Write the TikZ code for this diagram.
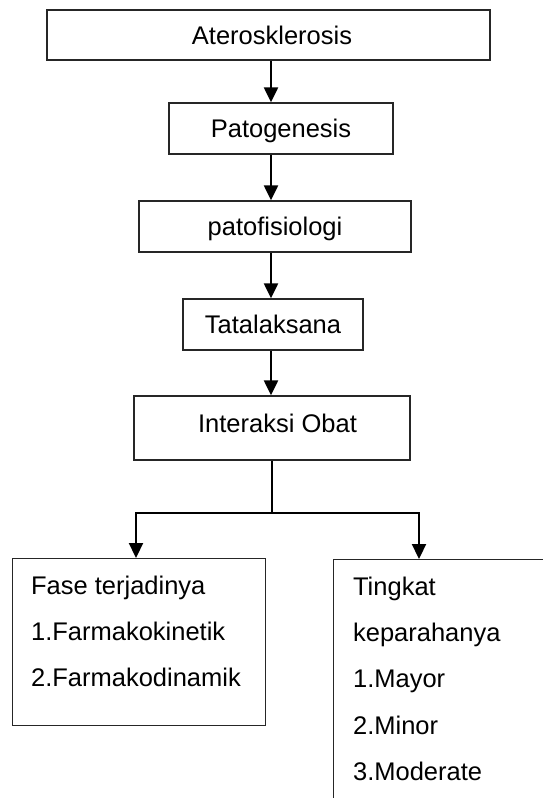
\documentclass[tikz,border=0pt]{standalone}
\usepackage{fontspec}
\setmainfont{Liberation Sans}
\usetikzlibrary{arrows.meta}
\tikzset{kotak/.style={draw=black!85, line width=1.3pt, text height=18pt, text depth=0pt}}
\begin{document}
\begin{tikzpicture}[x=1pt, y=-1pt, >={Triangle[width=14pt,length=15pt]}, line width=2.2pt, font=\fontsize{25.5pt}{46.3pt}\selectfont]
\path[use as bounding box, clip](0,0) rectangle (543,798);
\node[kotak, minimum width=443pt, minimum height=50pt](A) at (268.5,35){\hspace*{7pt}Aterosklerosis};
\node[kotak, minimum width=224pt, minimum height=51pt](B) at (281,128.5){Patogenesis};
\node[kotak, minimum width=272pt, minimum height=51pt](C) at (275,226.5){patofisiologi};
\node[kotak, minimum width=180pt, minimum height=51pt](D) at (273,324.5){Tatalaksana};
\node[kotak, minimum width=276pt, minimum height=64pt, text depth=10pt](E) at (272,428){\hspace*{11pt}Interaksi Obat};
\node[kotak, minimum width=253pt, minimum height=167pt, anchor=north west](F1) at (12,558){};
\node[anchor=north west, inner sep=0pt, align=left](T1) at (30,574.5){Fase terjadinya\\1.Farmakokinetik\\2.Farmakodinamik};
\node[kotak, minimum width=300pt, minimum height=300pt, anchor=north west](F2) at (333,559){};
\node[anchor=north west, inner sep=0pt, align=left](T2) at (352,575.7){Tingkat\\keparahanya\\1.Mayor\\2.Minor\\3.Moderate};
\coordinate (P) at (271,0);
\draw[->](A.south-|P)--(B.north-|P);
\draw[->](B.south-|P)--(C.north-|P);
\draw[->](C.south-|P)--(D.north-|P);
\draw[->](D.south-|P)--(E.north-|P);
\coordinate (Q) at (272,513);
\coordinate (L) at (136,0);
\coordinate (R) at (419,0);
\draw(E.south-|Q)--(Q);
\draw[<->](F1.north-|L)|-(Q-|R)--(F2.north-|R);

\end{tikzpicture}
\end{document}
